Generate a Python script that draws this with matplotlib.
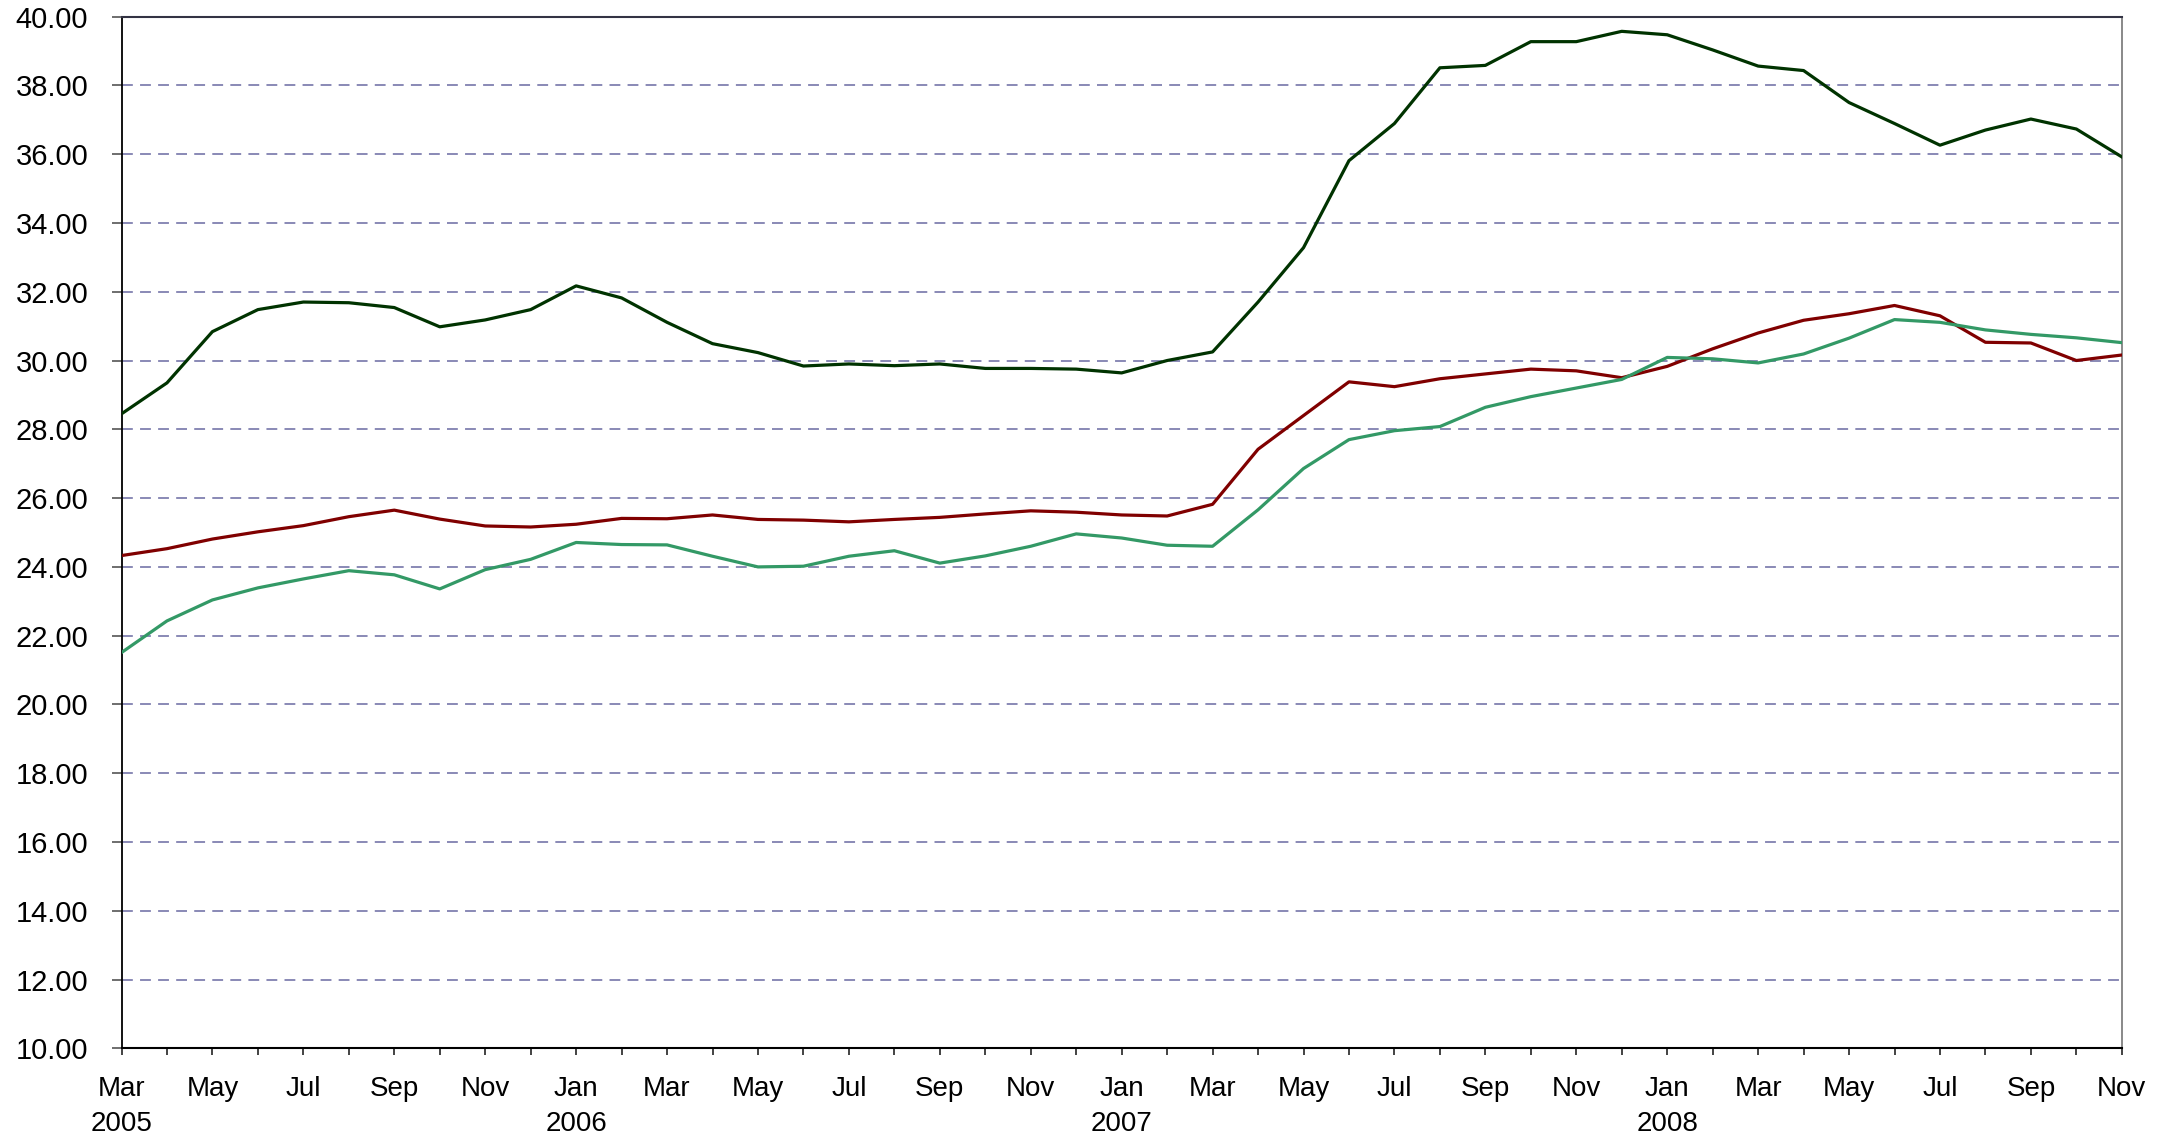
import matplotlib
matplotlib.use("Agg")
import matplotlib.pyplot as plt
from matplotlib.ticker import FixedLocator, FormatStrFormatter

months = ["Mar\n2005", "Apr", "May", "Jun", "Jul", "Aug", "Sep", "Oct", "Nov", "Dec",
          "Jan\n2006", "Feb", "Mar", "Apr", "May", "Jun", "Jul", "Aug", "Sep", "Oct", "Nov", "Dec",
          "Jan\n2007", "Feb", "Mar", "Apr", "May", "Jun", "Jul", "Aug", "Sep", "Oct", "Nov", "Dec",
          "Jan\n2008", "Feb", "Mar", "Apr", "May", "Jun", "Jul", "Aug", "Sep", "Oct", "Nov"]

series_dark = [28.45, 29.35, 30.84, 31.48, 31.70, 31.68, 31.54, 30.98, 31.18, 31.48,
               32.17, 31.82, 31.11, 30.49, 30.23, 29.84, 29.90, 29.85, 29.90, 29.77, 29.77, 29.75,
               29.64, 30.00, 30.25, 31.70, 33.28, 35.81, 36.89, 38.51, 38.58, 39.27, 39.27, 39.57,
               39.47, 39.03, 38.56, 38.43, 37.50, 36.89, 36.26, 36.70, 37.02, 36.73, 35.92]

series_red = [24.33, 24.53, 24.81, 25.02, 25.20, 25.46, 25.65, 25.39, 25.19, 25.16,
              25.24, 25.41, 25.40, 25.51, 25.38, 25.36, 25.31, 25.38, 25.44, 25.54, 25.63, 25.59,
              25.51, 25.48, 25.82, 27.42, 28.40, 29.38, 29.24, 29.47, 29.61, 29.75, 29.70, 29.50,
              29.83, 30.34, 30.80, 31.17, 31.36, 31.60, 31.30, 30.53, 30.51, 30.00, 30.16]

series_green = [21.51, 22.43, 23.04, 23.39, 23.65, 23.89, 23.77, 23.36, 23.92, 24.22,
                24.71, 24.65, 24.64, 24.31, 24.00, 24.02, 24.31, 24.47, 24.11, 24.32, 24.60, 24.96,
                24.84, 24.63, 24.60, 25.66, 26.86, 27.70, 27.96, 28.08, 28.64, 28.95, 29.20, 29.45,
                30.09, 30.05, 29.93, 30.19, 30.65, 31.19, 31.11, 30.89, 30.76, 30.66, 30.52]

yticks = [10 + 2 * k for k in range(16)]

plt.rcParams['font.family'] = ['Liberation Sans', 'DejaVu Sans']

fig = plt.figure(figsize=(21.66, 11.41), dpi=100)
ax = fig.add_axes([0.0561, 0.0811, 0.9796 - 0.0561, 0.9855 - 0.0811])

x = list(range(len(months)))
ax.plot(x, series_dark, color='#003300', lw=2.3, zorder=4)
ax.plot(x, series_red, color='#800000', lw=2.3, zorder=4)
ax.plot(x, series_green, color='#339966', lw=2.3, zorder=4)

ax.set_xlim(0, len(months) - 1)
ax.set_ylim(10, 40)

ax.yaxis.set_major_locator(FixedLocator(yticks))
ax.yaxis.set_major_formatter(FormatStrFormatter('%.2f'))
for v in yticks[1:-1]:
    ax.axhline(v, color='#8080b0', lw=1.3, ls=(0, (6, 4)), zorder=1)

ax.set_xticks(x)
ax.set_xticklabels([m if i % 2 == 0 else "" for i, m in enumerate(months)],
                   linespacing=1.45)

ax.tick_params(axis='y', direction='out', length=7, width=1.2, color='#555555',
               labelsize=21, pad=17)
ax.tick_params(axis='x', direction='out', length=5, width=1.2, color='#222222',
               labelsize=20, pad=15)

ax.spines['left'].set_color('#000000')
ax.spines['left'].set_linewidth(1.3)
ax.spines['bottom'].set_color('#000000')
ax.spines['bottom'].set_linewidth(1.5)
ax.spines['top'].set_color('#333344')
ax.spines['top'].set_linewidth(1.5)
ax.spines['right'].set_color('#808080')
ax.spines['right'].set_linewidth(1.3)

fig.savefig('out.png', dpi=100, facecolor='white')
